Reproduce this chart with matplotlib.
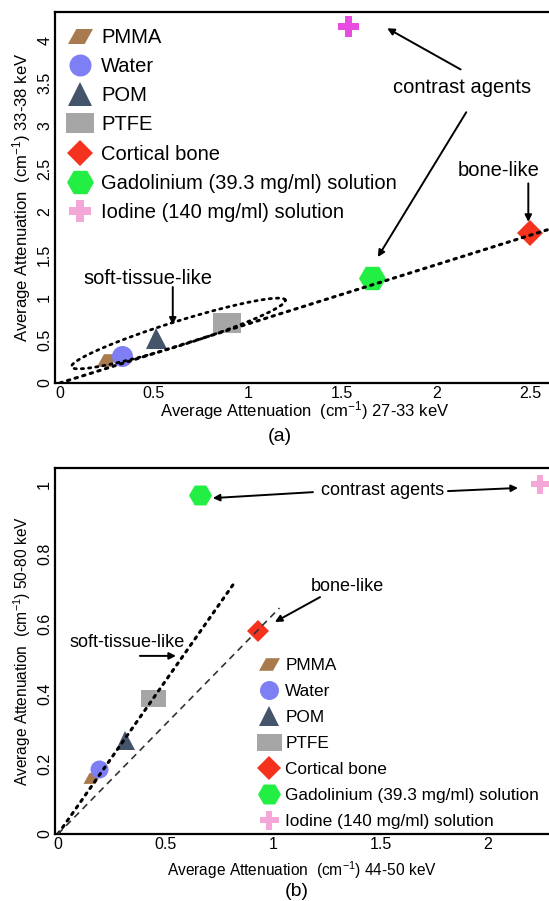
import matplotlib
matplotlib.use("Agg")
import matplotlib.pyplot as plt
import numpy as np
from matplotlib.lines import Line2D

plt.rcParams['font.family'] = ['Liberation Sans', 'DejaVu Sans']
plt.rcParams['mathtext.fontset'] = 'custom'
plt.rcParams['mathtext.rm'] = 'Liberation Sans'
plt.rcParams['mathtext.it'] = 'Liberation Sans'

# materials, in legend order
materials = ['PMMA', 'Water', 'POM', 'PTFE', 'Cortical bone',
             'Gadolinium (39.3 mg/ml) solution', 'Iodine (140 mg/ml) solution']

# panel (a): 27-33 keV vs 33-38 keV
a_x = [0.25, 0.33, 0.51, 0.89, 2.50, 1.66, 1.53]
a_y = [0.27, 0.31, 0.52, 0.70, 1.75, 1.22, 4.17]

# panel (b): 44-50 keV vs 50-80 keV
b_x = [0.16, 0.19, 0.31, 0.44, 0.93, 0.66, 2.24]
b_y = [0.16, 0.186, 0.27, 0.39, 0.58, 0.97, 1.00]

a_xticks = [0, 0.5, 1, 1.5, 2, 2.5]
a_yticks = [0, 0.5, 1, 1.5, 2, 2.5, 3, 3.5, 4]
b_xticks = [0, 0.5, 1, 1.5, 2]
b_yticks = [0, 0.2, 0.4, 0.6, 0.8, 1]

# trend lines through the origin
a_slope = 0.69
b_soft_slope = 0.875
b_bone_slope = 0.627

parallelogram = [(-1, -0.6), (-0.333, 0.6), (1, 0.6), (0.333, -0.6)]
rect = [(-1, -0.68), (1, -0.68), (1, 0.68), (-1, 0.68)]
markers = [parallelogram, 'o', '^', rect, 'D', 'H', 'P']
colors = ['#a87a4e', '#7f7ff5', '#44546a', '#a6a6a6', '#f5321e', '#22ee44', '#f5a8d8']
# marker sizes in pixels
sizes_a = [21, 21, 21, 28, 18, 27, 21]
sizes_b = [18, 18, 19, 25, 16, 23, 19]
leg_sizes_a = [25, 22, 24, 28, 19, 27, 22]
leg_sizes_b = [21, 19, 20, 25, 17, 23, 19]

W, H = 549, 901
fig = plt.figure(figsize=(W / 100, H / 100), dpi=100)


def px2pt(p):
    return p * 72 / 100


def setup(ax, xticks, yticks, fs):
    for s in ['left', 'bottom', 'top']:
        ax.spines[s].set_linewidth(1.6)
    ax.spines['right'].set_visible(False)
    ax.set_xticks(xticks)
    ax.set_yticks(yticks)
    ax.set_xticklabels([f'{t:g}' for t in xticks], fontsize=fs)
    ax.set_yticklabels([f'{t:g}' for t in yticks], fontsize=fs, rotation=90, va='center')
    ax.tick_params(length=0, pad=2)


def arrow(ax, start, end, head=True):
    ax.annotate('', xy=end, xytext=start,
                arrowprops=dict(arrowstyle='-|>' if head else '-', color='black', lw=1.4,
                                mutation_scale=10, shrinkA=0, shrinkB=0))


def legend(ax, leg_sizes, fs, anchor, spacing, pad):
    handles = []
    for m, c, s in zip(markers, colors, leg_sizes):
        handles.append(Line2D([], [], ls='none', marker=m, color=c, markeredgewidth=0,
                              markersize=px2pt(s)))
    ax.legend(handles, materials, loc='upper left', bbox_to_anchor=anchor, frameon=False,
              fontsize=fs, handlelength=1.2, handletextpad=pad, labelspacing=spacing,
              borderaxespad=0, borderpad=0)


# ---- panel (a)
ax = fig.add_axes([55 / W, (H - 383) / H, (W - 55) / W + 0.02, 371 / H])
ax.set_xlim(-0.026, 2.6 + 0.02 * W / 494 * 2.626)
ax.set_ylim(0, 4.33)
setup(ax, a_xticks, a_yticks, 11.5)

xs = np.array([0, 2.62])
ax.plot(xs, a_slope * xs, color='black', ls=(0, (0.8, 1.8)), lw=2.2, dash_capstyle='round', zorder=3)

# ellipse round the soft-tissue-like group
t = np.linspace(0, 2 * np.pi, 200)
ec = np.array([0.63, 0.578])
eu = np.array([0.568, 0.39])
ev = np.array([-0.019, 0.135])
ax.plot(ec[0] + np.cos(t) * eu[0] + np.sin(t) * ev[0],
        ec[1] + np.cos(t) * eu[1] + np.sin(t) * ev[1],
        color='black', ls=(0, (0.8, 1.8)), lw=2.0, dash_capstyle='round', zorder=3)

for i in range(len(materials)):
    c = '#e84ce0' if i == 6 else colors[i]
    ax.plot(a_x[i], a_y[i], ls='none', marker=markers[i], color=c, markeredgewidth=0,
            markersize=px2pt(sizes_a[i]), zorder=2)

legend(ax, leg_sizes_a, 14.5, (0.026, 0.958), 0.51, 0.45)

ax.text(0.47, 1.22, 'soft-tissue-like', fontsize=14.5, ha='center', va='center')
arrow(ax, (0.60, 1.12), (0.60, 0.68))
ax.text(2.14, 3.45, 'contrast agents', fontsize=14.5, ha='center', va='center')
arrow(ax, (2.13, 3.66), (1.74, 4.14))
arrow(ax, (2.16, 3.16), (1.69, 1.47))
ax.text(2.33, 2.48, 'bone-like', fontsize=14.5, ha='center', va='center')
arrow(ax, (2.49, 2.33), (2.49, 1.88))

ax.set_xlabel('Average Attenuation  (cm$^{\\mathregular{-1}}$) 27-33 keV', fontsize=12, labelpad=1)
ax.set_ylabel('Average Attenuation  (cm$^{\\mathregular{-1}}$) 33-38 keV', fontsize=12, labelpad=3)
ax.xaxis.set_label_coords((305 - 55) / (W - 55 + 0.02 * W), -16 / 371)
fig.text(280 / W, 1 - 436 / H, '(a)', fontsize=14, ha='center', va='center')

# ---- panel (b)
bx = fig.add_axes([55 / W, (H - 834) / H, (W - 55) / W + 0.02, 366 / H])
bx.set_xlim(-0.014, 2.284 + 0.02 * W / 215)
bx.set_ylim(0, 1.046)
setup(bx, b_xticks, b_yticks, 11.5)

xs = np.array([0, 0.82])
bx.plot(xs, b_soft_slope * xs, color='black', ls=(0, (0.8, 1.8)), lw=2.2, dash_capstyle='round', zorder=3)
xs = np.array([0, 1.03])
bx.plot(xs, b_bone_slope * xs, color='#333333', ls=(0, (4, 3)), lw=1.2, zorder=3)

for i in range(len(materials)):
    bx.plot(b_x[i], b_y[i], ls='none', marker=markers[i], color=colors[i], markeredgewidth=0,
            markersize=px2pt(sizes_b[i]), zorder=2)

legend(bx, leg_sizes_b, 12.4, (0.403, 0.482), 0.64, 0.35)

bx.text(1.51, 0.983, 'contrast agents', fontsize=13, ha='center', va='center')
arrow(bx, (1.186, 0.977), (0.72, 0.96))
arrow(bx, (1.814, 0.98), (2.14, 0.989))
bx.text(1.344, 0.706, 'bone-like', fontsize=13, ha='center', va='center')
arrow(bx, (1.219, 0.677), (1.009, 0.606))
bx.text(0.321, 0.546, 'soft-tissue-like', fontsize=13, ha='center', va='center')
arrow(bx, (0.381, 0.509), (0.549, 0.509))

bx.set_xlabel('Average Attenuation  (cm$^{\\mathregular{-1}}$) 44-50 keV', fontsize=11.2, labelpad=1)
bx.set_ylabel('Average Attenuation  (cm$^{\\mathregular{-1}}$) 50-80 keV', fontsize=11.2, labelpad=3)
bx.xaxis.set_label_coords((302 - 55) / (W - 55 + 0.02 * W), -25 / 366)
fig.text(297 / W, 1 - 891 / H, '(b)', fontsize=14, ha='center', va='center')

fig.savefig('out.png', dpi=100)
